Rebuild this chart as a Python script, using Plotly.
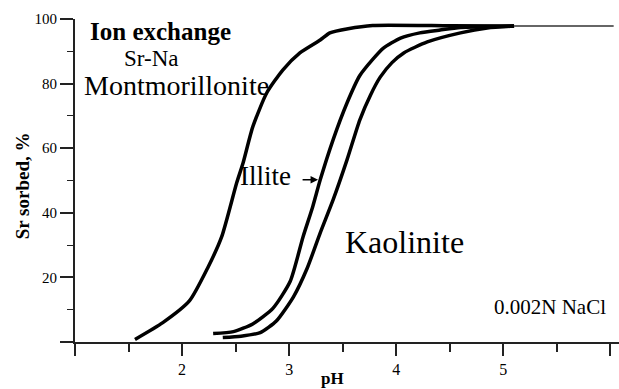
import plotly.graph_objects as go

# Data
mont_ph = [1.56, 1.82, 2.07, 2.24, 2.37, 2.51, 2.57, 2.66, 2.79, 2.94, 3.10, 3.29, 3.38, 3.55, 3.78, 4.5, 5.1]
mont_pct = [0.8, 6.0, 12.8, 23.0, 32.6, 49.3, 55.5, 66.6, 77.1, 84.2, 89.5, 93.5, 95.7, 97.0, 98.0, 97.9, 97.8]

illite_ph = [2.29, 2.48, 2.66, 2.85, 3.01, 3.13, 3.22, 3.29, 3.41, 3.54, 3.66, 3.78, 3.88, 4.04, 4.22, 4.41, 4.6, 5.1]
illite_pct = [2.6, 3.2, 5.6, 10.5, 18.8, 32.6, 41.9, 50.2, 62.6, 74.0, 82.5, 87.5, 91.0, 94.1, 95.7, 96.6, 97.4, 97.8]

kaol_ph = [2.38, 2.55, 2.73, 2.88, 3.04, 3.17, 3.29, 3.41, 3.54, 3.66, 3.76, 3.85, 3.96, 4.07, 4.29, 4.6, 4.85, 5.1]
kaol_pct = [1.4, 1.8, 2.9, 6.5, 14.0, 23.0, 33.8, 44.0, 56.4, 68.8, 76.5, 82.0, 86.5, 89.5, 92.9, 95.7, 97.2, 97.8]

plateau_ph = [5.1, 6.03]
plateau_pct = [97.8, 97.8]

x_tickvals = [1, 2, 3, 4, 5, 6]
x_ticktext = ["", "2", "3", "4", "5", ""]
x_minor = [1.5, 2.5, 3.5, 4.5, 5.5]
y_tickvals = [0, 20, 40, 60, 80, 100]
y_ticktext = ["", "20", "40", "60", "80", "100"]
y_minor = [10, 30, 50, 70, 90]

SERIF = "Liberation Serif, Times New Roman, serif"

fig = go.Figure()
for xs, ys in [(mont_ph, mont_pct), (illite_ph, illite_pct), (kaol_ph, kaol_pct)]:
    fig.add_trace(go.Scatter(x=xs, y=ys, mode="lines", line=dict(color="black", width=3.5, shape="spline", smoothing=0.6),
                             showlegend=False, hoverinfo="skip"))
fig.add_trace(go.Scatter(x=plateau_ph, y=plateau_pct, mode="lines", line=dict(color="#333", width=1.5),
                         showlegend=False, hoverinfo="skip"))

fig.update_layout(
    width=619, height=389,
    margin=dict(l=75, r=0, t=19, b=47),
    paper_bgcolor="white", plot_bgcolor="white",
    font=dict(family=SERIF, color="black"),
    xaxis=dict(range=[1, 6.08], showgrid=False, zeroline=False, showline=True, linecolor="#222", linewidth=1.5,
               tickvals=x_tickvals, ticktext=x_ticktext, ticks="outside", ticklen=12, tickwidth=1.5, tickcolor="#222",
               tickfont=dict(size=16, family=SERIF),
               minor=dict(tickvals=x_minor, ticks="outside", ticklen=8, tickwidth=1.5, tickcolor="#222")),
    yaxis=dict(range=[0, 100], showgrid=False, zeroline=False, showline=True, linecolor="#222", linewidth=2,
               tickvals=y_tickvals, ticktext=y_ticktext, ticks="outside", ticklen=13, tickwidth=1.5, tickcolor="#222",
               tickfont=dict(size=15, family=SERIF),
               minor=dict(tickvals=y_minor, ticks="outside", ticklen=6, tickwidth=1.2, tickcolor="#222")),
)

ann = [
    dict(text="<b>Ion exchange</b>", x=1.12, y=96.0, xanchor="left", yanchor="middle", font=dict(size=25)),
    dict(text="Sr-Na", x=1.44, y=87.8, xanchor="left", yanchor="middle", font=dict(size=23)),
    dict(text="Montmorillonite", x=1.065, y=79.3, xanchor="left", yanchor="middle", font=dict(size=28)),
    dict(text="Illite", x=3.04, y=51.5, xanchor="right", yanchor="middle", font=dict(size=27)),
    dict(text="Kaolinite", x=3.50, y=31.1, xanchor="left", yanchor="middle", font=dict(size=32)),
    dict(text="0.002N NaCl", x=5.98, y=10.7, xanchor="right", yanchor="middle", font=dict(size=21)),
]
for a in ann:
    a.update(xref="x", yref="y", showarrow=False)
    a["font"].update(family=SERIF, color="black")
    fig.add_annotation(**a)

# Illite arrow
fig.add_annotation(x=3.27, y=50.2, xref="x", yref="y", text="", showarrow=True, ax=-17, ay=0,
                   arrowhead=2, arrowsize=1, arrowwidth=1.5, arrowcolor="black")

# axis titles
fig.add_annotation(text="<b>Sr sorbed, %</b>", xref="paper", yref="y", x=0, y=48.2, xshift=-53,
                   xanchor="center", yanchor="middle", textangle=-90, showarrow=False,
                   font=dict(size=19, family=SERIF, color="black"))
fig.add_annotation(text="<b>pH</b>", xref="x", yref="paper", x=3.40, y=0, yshift=-36,
                   xanchor="center", yanchor="middle", showarrow=False,
                   font=dict(size=17, family=SERIF, color="black"))

fig.write_html("out.html", config={"displayModeBar": False},
               post_script="document.body.style.margin='0';document.body.style.overflow='hidden';")
